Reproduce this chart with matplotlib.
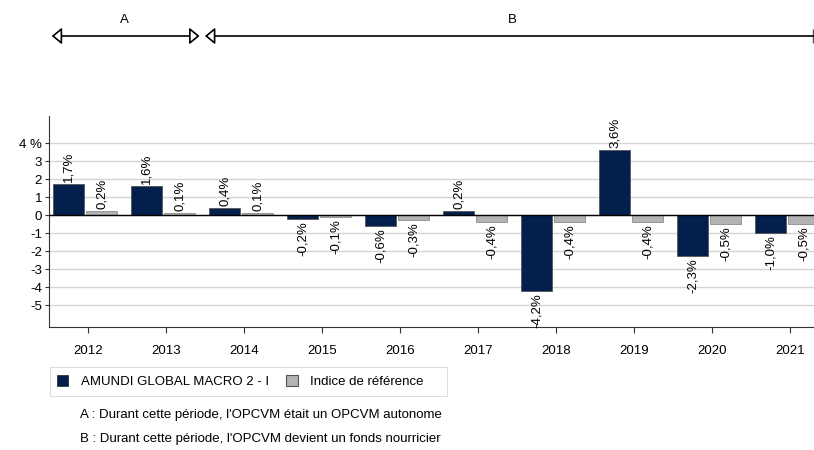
import matplotlib
matplotlib.use("Agg")
import matplotlib.pyplot as plt
import matplotlib.transforms as mtransforms
from matplotlib.patches import Patch, Rectangle
import numpy as np

plt.rcParams["font.family"] = ["Liberation Sans", "DejaVu Sans"]

YEARS = ["2012", "2013", "2014", "2015", "2016", "2017", "2018", "2019", "2020", "2021"]
FUND = [1.7, 1.6, 0.4, -0.2, -0.6, 0.2, -4.2, 3.6, -2.3, -1.0]
INDEX = [0.2, 0.1, 0.1, -0.1, -0.3, -0.4, -0.4, -0.4, -0.5, -0.5]
FUND_NAME = "AMUNDI GLOBAL MACRO 2 - I"
INDEX_NAME = "Indice de référence"
NOTES = [
    "A : Durant cette période, l'OPCVM était un OPCVM autonome",
    "B : Durant cette période, l'OPCVM devient un fonds nourricier",
]

NAVY = "#03204c"
GREY = "#b3b3b3"
GRID = "#d4d4d4"
W, H = 814, 450

fig = plt.figure(figsize=(W / 100, H / 100), dpi=100)
ax = fig.add_axes([49 / W, 1 - 326.7 / H, 1 - 49 / W, (326.7 - 116) / H])

x = np.arange(len(YEARS))
bw = 0.40
fx = x - 0.245
ix = x + 0.175
ax.bar(fx, FUND, bw, color=NAVY, edgecolor="#555555", linewidth=0.6, zorder=3)
ax.bar(ix, INDEX, bw, color=GREY, edgecolor="#8a8a8a", linewidth=0.6, zorder=3)


def fmt(v):
    return f"{v:.1f}%".replace(".", ",")


for xs, vals in ((fx, FUND), (ix, INDEX)):
    for xi, v in zip(xs, vals):
        off = 0.12 if v >= 0 else -0.12
        ax.text(xi, v + off, fmt(v), rotation=90, ha="center",
                va="bottom" if v >= 0 else "top", fontsize=9.5, zorder=4)

ax.set_xlim(-0.5, 9.31)
ax.set_ylim(-6.2, 5.5)
ax.set_yticks(range(-5, 5))
ax.set_yticklabels([str(t) for t in range(-5, 4)] + ["4 %"], fontsize=9.5)
ax.set_xticks(x)
ax.set_xticklabels(YEARS, fontsize=9.5)
ax.tick_params(axis="x", length=4, pad=9, color="#333333")
ax.tick_params(axis="y", length=3, pad=2, color="#333333")
ax.yaxis.grid(True, color=GRID, linewidth=1)
ax.set_axisbelow(True)
ax.axhline(0, color="black", linewidth=1, zorder=3)
for s in ("top", "right"):
    ax.spines[s].set_visible(False)
ax.spines["left"].set_color("#333333")
ax.spines["bottom"].set_color("#333333")

# period arrows on top
tr = mtransforms.blended_transform_factory(ax.transData, fig.transFigure)
ya = 1 - 36 / H
head = "head_length=0.6,head_width=0.5"
ax.annotate("", xy=(1.43, ya), xytext=(-0.465, ya), xycoords=tr, textcoords=tr,
            arrowprops=dict(arrowstyle="<|-|>," + head, fc="white", ec="black",
                            lw=1.2, mutation_scale=10, shrinkA=0, shrinkB=0))
ax.annotate("", xy=(9.31, ya), xytext=(1.5, ya), xycoords=tr, textcoords=tr,
            arrowprops=dict(arrowstyle="<|-," + head, fc="white", ec="black",
                            lw=1.2, mutation_scale=10, shrinkA=0, shrinkB=0))
ax.plot([9.3], [ya], marker="|", markersize=10, color="#555555",
        transform=tr, clip_on=False)
ax.text(0.47, 1 - 20 / H, "A", transform=tr, ha="center", va="center", fontsize=9.5)
ax.text(5.44, 1 - 20 / H, "B", transform=tr, ha="center", va="center", fontsize=9.5)

# legend, with a wider box drawn by hand
handles = [Patch(facecolor=NAVY, edgecolor="#333333", linewidth=0.6),
           Patch(facecolor=GREY, edgecolor="#555555", linewidth=0.8)]
fig.legend(handles, [FUND_NAME, INDEX_NAME], ncol=2, loc="upper left",
           bbox_to_anchor=(50 / W, 1 - 368 / H), borderaxespad=0,
           fontsize=9.5, frameon=False,
           handlelength=0.9, handleheight=0.9, handletextpad=0.95,
           columnspacing=1.25, borderpad=0.5)
fig.add_artist(Rectangle((50 / W, 1 - 396 / H), 397 / W, 29 / H,
                         transform=fig.transFigure, fill=False,
                         edgecolor="#dddddd", linewidth=0.8))

fig.text(80 / W, 1 - 415 / H, NOTES[0], ha="left", va="center", fontsize=9.5)
fig.text(80 / W, 1 - 439 / H, NOTES[1], ha="left", va="center", fontsize=9.5)

fig.savefig("out.png", dpi=100)
